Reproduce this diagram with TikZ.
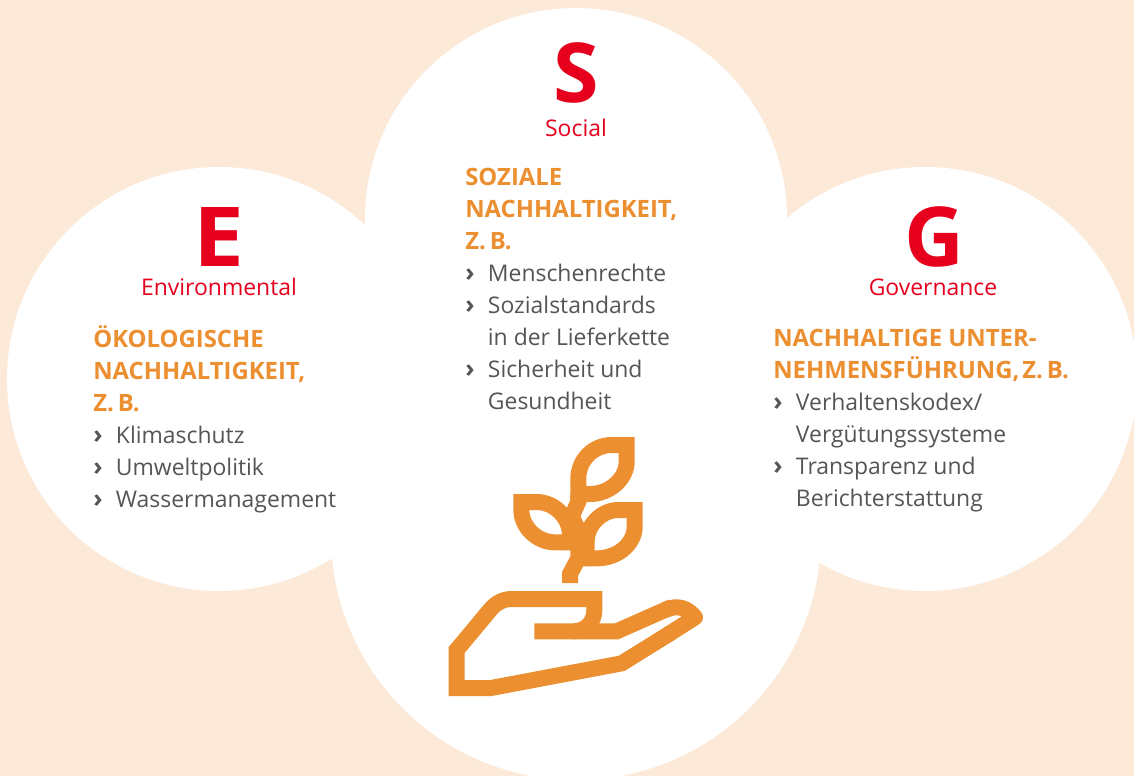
\documentclass[tikz,border=0pt]{standalone}
\usepackage{fontspec}
\setmainfont{Open Sans}
\definecolor{bgcream}{HTML}{FCE9D8}
\definecolor{esgred}{HTML}{E6001E}
\definecolor{esgorange}{HTML}{EC8F31}
\definecolor{esggrey}{HTML}{555555}
\newcommand{\bul}{\makebox[17pt][l]{\bfseries\fontsize{19}{24}\selectfont ›}}
\newcommand{\ind}{\hspace*{17pt}}
\newcommand{\hd}[1]{\textcolor{esgorange}{\fontsize{17.9}{24}\selectfont\bfseries #1}}
\tikzset{
  bigletter/.style={anchor=base,inner sep=0,text=esgred,font=\bfseries\fontsize{62}{62}\selectfont},
  sublabel/.style={anchor=base,inner sep=0,text=esgred,font=\fontsize{17.2}{20}\selectfont},
  block/.style={anchor=north west,inner sep=0,align=left,text=esggrey,font=\fontsize{17.2}{24}\selectfont},
  iconline/.style={draw=esgorange,line width=12pt,miter limit=10}
}
\begin{document}
\begin{tikzpicture}[x=.75pt,y=-.75pt]
        \useasboundingbox (0,0) rectangle (1134,776);
        \fill[bgcream] (0,0) rectangle (1134,776);
        \fill[white] (219,379) circle[radius=159pt];
        \fill[white] (925,379) circle[radius=159pt];
        \fill[white] (576,219) circle[radius=158.25pt];
        \fill[white] (576,535) circle[radius=183.75pt];
        \node[bigletter,xscale=1.1] (letterE) at (218.5,266) {E};
        \node[sublabel] (labelE) at (219,295) {Environmental};
        \node[bigletter] (letterS) at (576,102) {S};
        \node[sublabel] (labelS) at (576,136) {Social};
        \node[bigletter] (letterG) at (934,266) {G};
        \node[sublabel] (labelG) at (933,295) {Governance};
        \node[block] (blockE) at (93,325) {\hd{ÖKOLOGISCHE}\\\hd{NACHHALTIGKEIT,}\\\hd{Z.\,B.}\\\bul Klimaschutz\\\bul Umweltpolitik\\\bul Wassermanagement};
        \node[block] (blockS) at (465,168) {\hd{SOZIALE}\\\hd{NACHHALTIGKEIT,}\\\hd{Z.\,B.}\\\bul Menschenrechte\\\bul Sozialstandards\\\ind in der Lieferkette\\\bul Sicherheit und\\\ind Gesundheit};
        \node[block] (blockG) at (773,329) {\hd{NACHHALTIGE UNTER-}\\\hd{NEHMENSFÜHRUNG,\hspace{.12em}Z.\,B.}\\\bul Verhaltenskodex/\\\ind Vergütungssysteme\\\bul Transparenz und\\\ind Berichterstattung};
        % plant in a hand
        \begin{scope}[shift={(430,420)},x=.25pt,y=-.25pt]
                \draw[iconline] (313,634) -- (430,634) .. controls (465,634) and (493,608) .. (493,570) -- (493,537) -- (245,537) .. controls (220,537) and (198,548) .. (180,570) -- (80,690) -- (80,804) -- (183,804) -- (575,730) -- (720,640);
                \draw[iconline,line join=round] (715,643) -- (795,592) .. controls (775,566) and (745,552) .. (705,570);
                \draw[iconline] (725,561) -- (560,634) -- (430,634);
                \draw[iconline] (590,75) -- (545,75) .. controls (490,75) and (445,120) .. (445,175) -- (445,222) -- (480,222) .. controls (540,222) and (590,175) .. (590,125) -- cycle;
                \draw[iconline] (274,246) -- (320,246) .. controls (375,246) and (420,295) .. (420,345) -- (420,367) -- (375,367) .. controls (320,367) and (274,320) .. (274,270) -- cycle;
                \draw[iconline] (614,270) -- (565,270) .. controls (515,270) and (470,315) .. (470,365) -- (470,415) -- (500,415) .. controls (565,415) and (614,370) .. (614,320) -- cycle;
                \draw[iconline] (445,222) -- (445,245) -- (425,290) -- (445,330) -- (445,415) -- (420,462) -- (420,489);
        \end{scope}
\end{tikzpicture}
\end{document}
